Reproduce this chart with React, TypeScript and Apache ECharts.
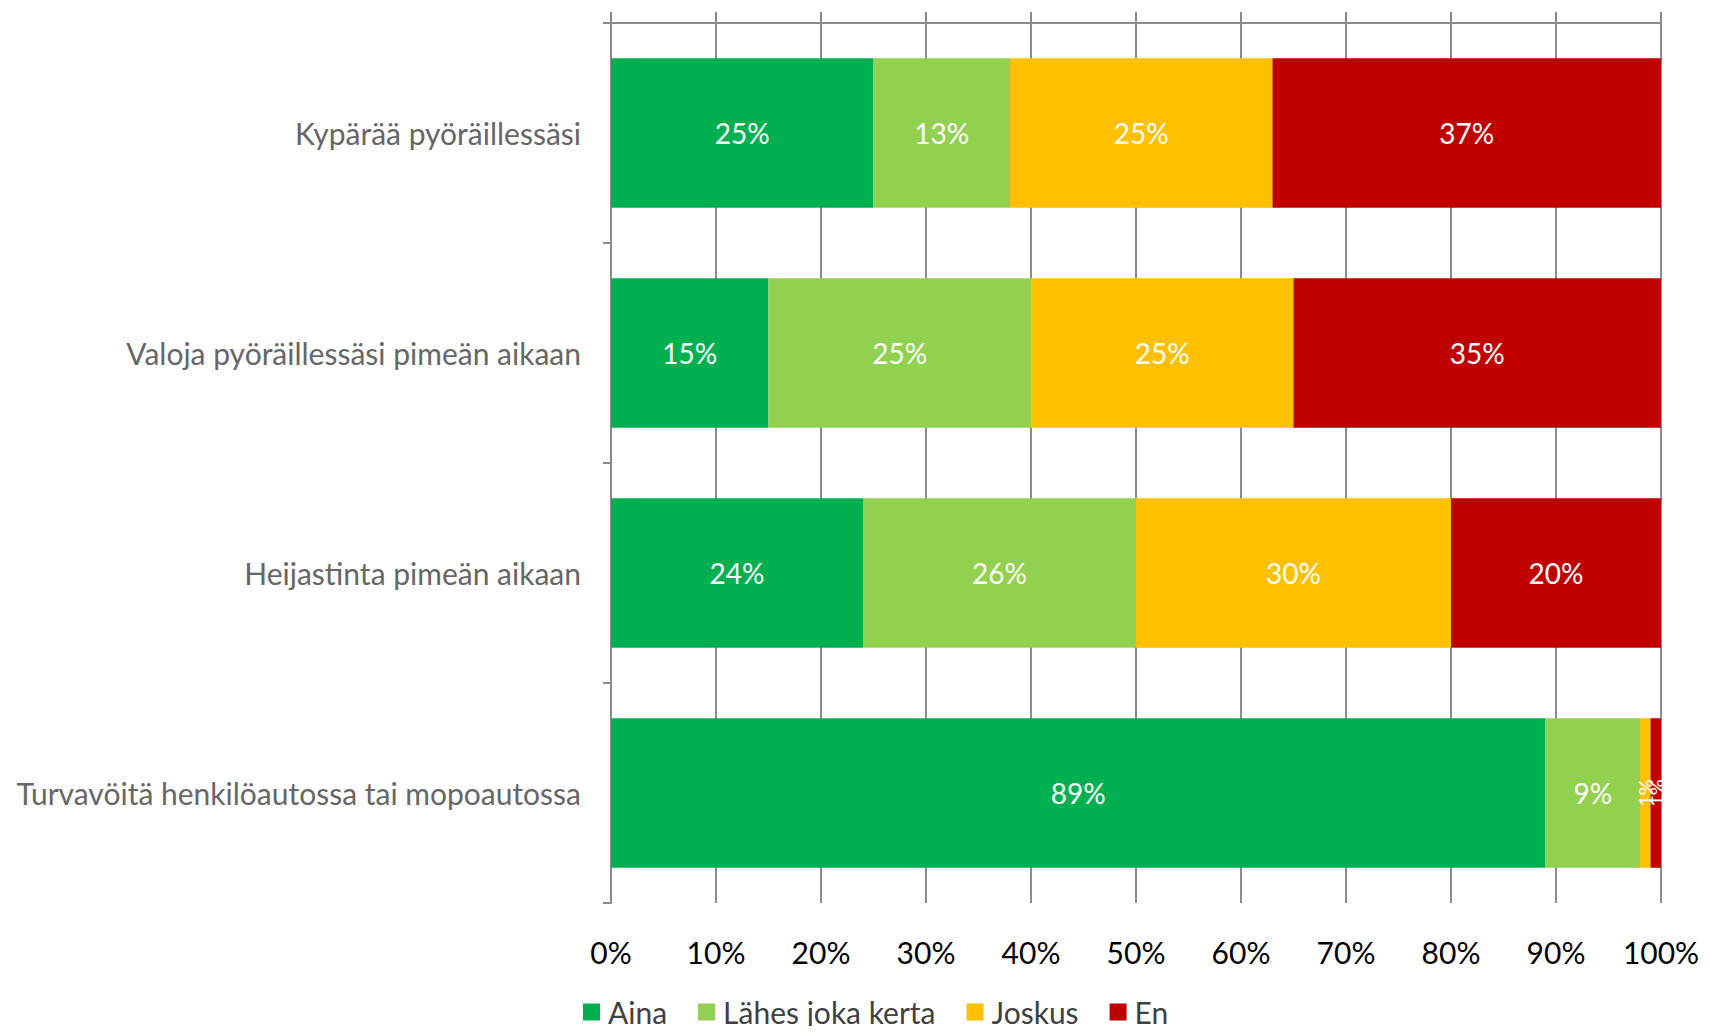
import React, { useEffect, useRef } from "react";
import * as echarts from "echarts";

const categories = [
  "Kypärää pyöräillessäsi",
  "Valoja pyöräillessäsi pimeän aikaan",
  "Heijastinta pimeän aikaan",
  "Turvavöitä henkilöautossa tai mopoautossa",
];
const seriesNames = ["Aina", "Lähes joka kerta", "Joskus", "En"];
const aina = [25, 15, 24, 89];
const lahes = [13, 25, 26, 9];
const joskus = [25, 25, 30, 1];
const en = [37, 35, 20, 1];
const colors = ["#00B050", "#92D050", "#FFC000", "#C00000"];

const FONT = "Lato, 'Open Sans', sans-serif";

export default function App() {
  const ref = useRef<HTMLDivElement>(null);
  useEffect(() => {
    if (!ref.current) return;
    const chart = echarts.init(ref.current, undefined, { renderer: "svg" });
    const values = [aina, lahes, joskus, en];
    const series = values.map((vals, i) => ({
      name: seriesNames[i],
      type: "bar",
      stack: "total",
      barCategoryGap: "32%",
      xAxisIndex: 0,
      itemStyle: { color: colors[i] },
      data: vals.map((v) => ({
        value: v,
        label: v < 3 ? { rotate: 90, fontSize: 20 } : undefined,
      })),
      label: {
        show: true,
        position: "inside",
        color: "#ffffff",
        fontFamily: FONT,
        fontSize: 28,
        formatter: "{c}%",
      },
    }));
    chart.setOption({
      animation: false,
      textStyle: { fontFamily: FONT },
      grid: { left: 611, right: 49, top: 23, bottom: 131, containLabel: false },
      legend: {
        data: seriesNames,
        left: 583,
        top: 994,
        padding: 0,
        itemWidth: 17,
        itemHeight: 17,
        itemGap: 31,
        icon: "rect",
        textStyle: { fontFamily: FONT, fontSize: 30, color: "#404040", lineHeight: 36, padding: [0, 0, 0, 3] },
      },
      xAxis: [
        {
          type: "value",
          min: 0,
          max: 100,
          interval: 10,
          position: "bottom",
          axisLine: { show: false },
          axisTick: { show: false },
          splitLine: { show: true, lineStyle: { color: "#8c8c8c", width: 2 } },
          axisLabel: {
            formatter: "{value}%",
            color: "#000000",
            fontFamily: FONT,
            fontSize: 30,
            margin: 34,
          },
        },
        {
          type: "value",
          min: 0,
          max: 100,
          interval: 10,
          position: "top",
          axisLine: { show: true, lineStyle: { color: "#8c8c8c", width: 2 } },
          axisTick: { show: true, length: 11, lineStyle: { color: "#8c8c8c", width: 2 } },
          splitLine: { show: false },
          axisLabel: { show: false },
        },
      ],
      yAxis: {
        type: "category",
        data: categories,
        inverse: true,
        axisLine: { show: true, lineStyle: { color: "#8c8c8c", width: 2 } },
        axisTick: { show: true, length: 8, lineStyle: { color: "#8c8c8c", width: 2 } },
        axisLabel: {
          color: "#666666",
          fontFamily: FONT,
          fontSize: 30,
          margin: 30,
        },
      },
      series,
    });
    return () => chart.dispose();
  }, []);
  return <div ref={ref} style={{ width: 1710, height: 1034, margin: -8 }} />;
}
